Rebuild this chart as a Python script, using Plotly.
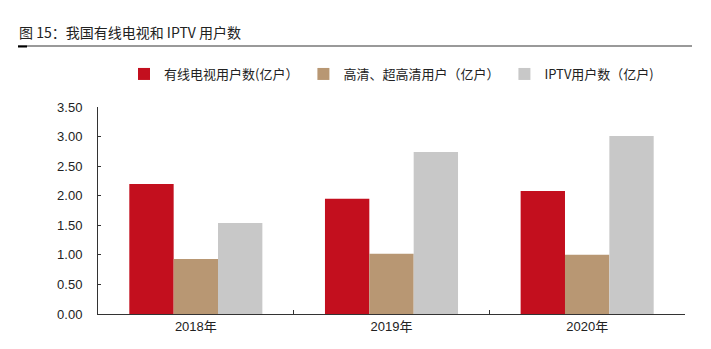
import plotly.graph_objects as go

categories = ["2018年", "2019年", "2020年"]
cable = [2.20, 1.95, 2.08]
hd = [0.93, 1.02, 1.00]
iptv = [1.54, 2.74, 3.01]
names = ["有线电视用户数(亿户）", "高清、超高清用户（亿户）", "IPTV用户数（亿户)"]
colors = ["#C30F1E", "#B89773", "#C8C8C8"]
yticks = [0, 0.5, 1.0, 1.5, 2.0, 2.5, 3.0, 3.5]

fig = go.Figure()
for name, vals, c in zip(names, [cable, hd, iptv], colors):
    fig.add_trace(go.Bar(x=categories, y=vals, name=name, marker=dict(color=c, line=dict(width=0))))

W, H = 711, 349
ml, mr, mt, mb = 98, 26, 107, 35
pw, ph = W - ml - mr, H - mt - mb

def px_x(p):
    return (p - ml) / pw

def px_y(p):
    return (H - mb - p) / ph

fig.update_layout(
    width=W, height=H,
    margin=dict(l=ml, r=mr, t=mt, b=mb),
    paper_bgcolor="white", plot_bgcolor="white",
    barmode="group", bargap=0.32, bargroupgap=0,
    font=dict(family="Liberation Sans, Noto Sans CJK SC", size=13, color="#222"),
    title=dict(text="图 15：我国有线电视和 IPTV 用户数", x=19 / W, xref="container", xanchor="left",
               y=1 - 33 / H, yref="container", yanchor="middle",
               font=dict(family="Noto Sans CJK SC", size=14, color="#222")),
    legend=dict(orientation="h", x=0.5, xanchor="center", y=px_y(74), yanchor="middle",
                font=dict(family="Noto Sans CJK SC, Liberation Sans", size=13, color="#222"),
                traceorder="normal"),
    xaxis=dict(showline=True, linecolor="#333", linewidth=1, ticks="inside", tickson="boundaries",
               ticklen=4, tickcolor="#333", showgrid=False, tickfont=dict(size=13)),
    yaxis=dict(range=[0, 3.5], tickvals=yticks, tickformat=".2f", showline=True, linecolor="#333",
               linewidth=1, ticks="inside", ticklen=3, tickcolor="#333", showgrid=False,
               zeroline=False, tickfont=dict(size=13), ticklabelstandoff=12),
    shapes=[
        dict(type="line", xref="paper", yref="paper", x0=px_x(18), x1=px_x(692), y0=px_y(46), y1=px_y(46),
             line=dict(color="#777", width=1.5)),
        dict(type="line", xref="paper", yref="paper", x0=px_x(18), x1=px_x(27), y0=px_y(46.5), y1=px_y(46.5),
             line=dict(color="#000", width=2)),
    ],
)

fig.write_html("out.html")
